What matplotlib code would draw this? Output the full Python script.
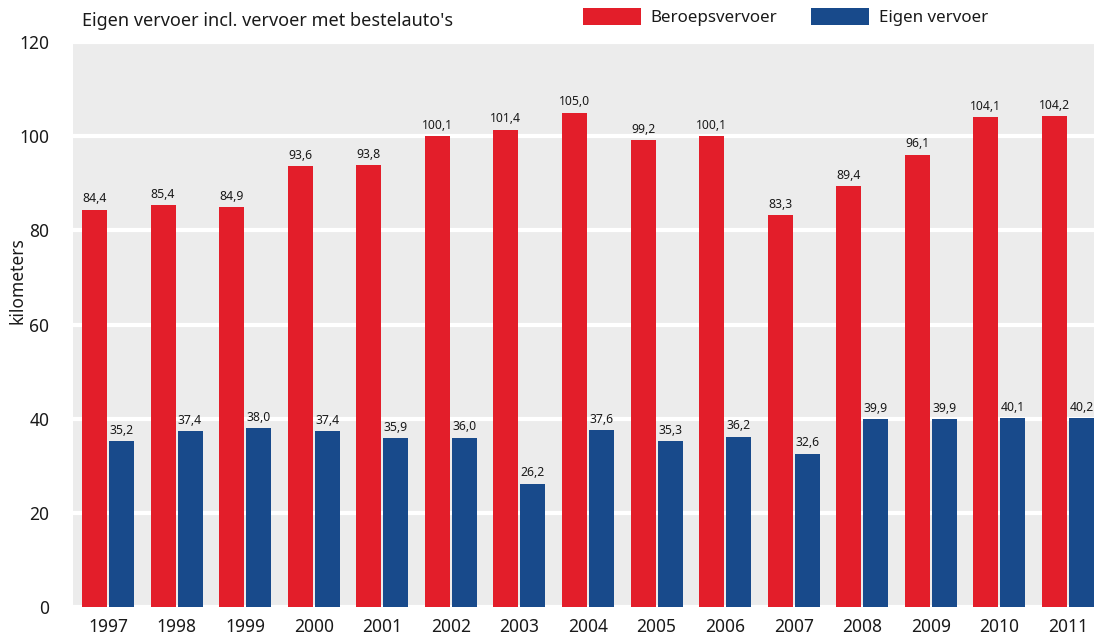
import matplotlib
matplotlib.use("Agg")
import matplotlib.pyplot as plt
import numpy as np
from matplotlib.patches import Patch

years = ["1997", "1998", "1999", "2000", "2001", "2002", "2003", "2004",
         "2005", "2006", "2007", "2008", "2009", "2010", "2011"]
beroeps = [84.4, 85.4, 84.9, 93.6, 93.8, 100.1, 101.4, 105.0, 99.2, 100.1,
           83.3, 89.4, 96.1, 104.1, 104.2]
eigen = [35.2, 37.4, 38.0, 37.4, 35.9, 36.0, 26.2, 37.6, 35.3, 36.2,
         32.6, 39.9, 39.9, 40.1, 40.2]
yticks = [0, 20, 40, 60, 80, 100, 120]

RED = "#E31E2A"
BLUE = "#184A8B"
BG = "#ECECEC"
TXT = "#1a1a1a"

plt.rcParams['font.family'] = ['Noto Sans', 'DejaVu Sans']

W, H = 1094, 639
fig = plt.figure(figsize=(W / 100, H / 100), dpi=100)
ax = fig.add_axes([73 / W, (H - 607) / H, (1094 - 73) / W, (607 - 42) / H])
ax.set_facecolor(BG)

x = np.arange(len(years))
bw = 0.365
off = 0.197
b1 = ax.bar(x - off, beroeps, bw, color=RED, zorder=3)
b2 = ax.bar(x + off, eigen, bw, color=BLUE, zorder=3)

def fmt(v):
    return f"{v:.1f}".replace(".", ",")

for bars, vals in ((b1, beroeps), (b2, eigen)):
    for r, v in zip(bars, vals):
        ax.annotate(fmt(v), (r.get_x() + r.get_width() / 2, v),
                    xytext=(0, 3), textcoords="offset points",
                    ha="center", va="bottom", fontsize=8.8, color=TXT, zorder=4)

ax.set_xlim(-0.51, len(years) - 1 + 0.38)
ax.set_ylim(0, 120)
ax.set_yticks(yticks)
ax.set_yticklabels([str(t) for t in yticks])
ax.set_xticks(x)
ax.set_xticklabels(years)
ax.yaxis.grid(True, color="white", linewidth=3, zorder=1)
ax.set_axisbelow(True)
for s in ax.spines.values():
    s.set_visible(False)
ax.tick_params(axis="both", length=0, labelsize=12.5, colors=TXT)
ax.tick_params(axis="y", pad=17)
ax.tick_params(axis="x", pad=8)

fig.text(17 / W, 1 - 281 / H, "kilometers", rotation=90, ha="center",
         va="center", fontsize=12.5, color=TXT)
fig.text(82 / W, 1 - 21 / H, "Eigen vervoer incl. vervoer met bestelauto's",
         ha="left", va="center", fontsize=13, color=TXT)

handles = [Patch(facecolor=RED, edgecolor="none"),
           Patch(facecolor=BLUE, edgecolor="none")]
fig.legend(handles, ["Beroepsvervoer", "Eigen vervoer"], loc="upper left",
           bbox_to_anchor=(583 / W, 1 - 8 / H), ncol=2, frameon=False,
           fontsize=12.2, handlelength=3.4, handleheight=1.2,
           handletextpad=0.6, columnspacing=2.0, borderpad=0,
           borderaxespad=0, labelcolor=TXT)

fig.savefig("out.png", dpi=100)
